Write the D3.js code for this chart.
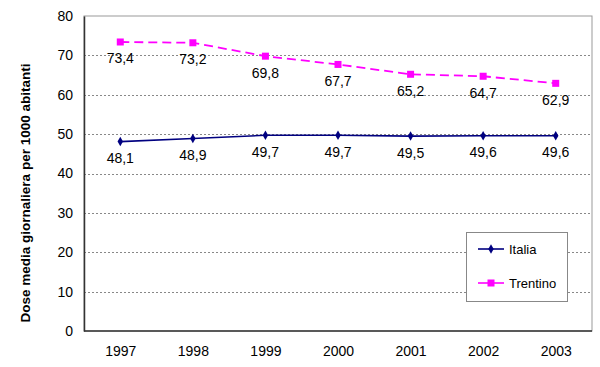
<!DOCTYPE html>
<html><head><meta charset="utf-8">
<script src="https://cdn.jsdelivr.net/npm/d3@7"></script>
<style>body{margin:0;background:#fff}svg{display:block}text{font-family:"Liberation Sans",Arial,sans-serif}</style>
</head><body>
<svg id="c" width="600" height="367"></svg>
<script>
const years = ["1997","1998","1999","2000","2001","2002","2003"];
const italia = [48.1,48.9,49.7,49.7,49.5,49.6,49.6];
const trentino = [73.4,73.2,69.8,67.7,65.2,64.7,62.9];
const yTicks = [0,10,20,30,40,50,60,70,80];
const seriesNames = ["Italia","Trentino"];

const svg = d3.select("#c");
const L=84, R=592, T=16, B=331;
const x = d3.scalePoint().domain(years).range([L,R]).padding(0.5);
const y = d3.scaleLinear().domain([0,80]).range([B,T]);

// plot frame
svg.append("rect").attr("x",L).attr("y",T).attr("width",R-L).attr("height",B-T)
  .attr("fill","#fff").attr("stroke","#999").attr("stroke-width",1);
// gridlines
svg.append("g").selectAll("line").data(yTicks.filter(d=>d>0&&d<80)).join("line")
  .attr("x1",L).attr("x2",R).attr("y1",d=>Math.round(y(d))+0.5).attr("y2",d=>Math.round(y(d))+0.5)
  .attr("stroke","#888").attr("stroke-dasharray","2,2");

// axes
const yAxis = d3.axisLeft(y).tickValues(yTicks).tickSize(0).tickPadding(11).tickFormat(d3.format("d"));
const gy = svg.append("g").attr("transform",`translate(${L},0)`).call(yAxis);
gy.select(".domain").attr("stroke","#333").attr("stroke-width",1.5);
gy.selectAll("text").attr("font-size",14).attr("fill","#000");
const xAxis = d3.axisBottom(x).tickSize(0).tickPadding(15.5);
const gx = svg.append("g").attr("transform",`translate(0,${B})`).call(xAxis);
gx.select(".domain").attr("stroke","#333").attr("stroke-width",1.5).attr("d",`M${L},0H${R}`);
gx.selectAll("text").attr("font-size",14).attr("fill","#000");

// y title
svg.append("text").attr("transform",`translate(30,193) rotate(-90)`)
  .attr("text-anchor","middle").attr("font-size",13.5).attr("font-weight","bold").text("Dose media giornaliera per 1000 abitanti");

const line = d3.line().x((d,i)=>x(years[i])).y(d=>y(d));
// Italia
svg.append("path").datum(italia).attr("d",line).attr("fill","none").attr("stroke","#000080").attr("stroke-width",1.6);
svg.append("g").selectAll("path").data(italia).join("path")
  .attr("d",d3.symbol(d3.symbolDiamond,26)).attr("transform",(d,i)=>`translate(${x(years[i])},${y(d)})`).attr("fill","#000080");
// Trentino
svg.append("path").datum(trentino).attr("d",line).attr("fill","none").attr("stroke","#ff00ff").attr("stroke-width",1.8).attr("stroke-dasharray","9,5");
svg.append("g").selectAll("rect").data(trentino).join("rect")
  .attr("x",(d,i)=>x(years[i])-3.5).attr("y",d=>y(d)-3.5).attr("width",7).attr("height",7).attr("fill","#ff00ff");

// labels
const fmt = d=>d3.format(".1f")(d).replace(".",",");
[italia,trentino].forEach(s=>{
  svg.append("g").selectAll("text").data(s).join("text")
    .attr("x",(d,i)=>x(years[i])).attr("y",d=>y(d)+21.5).attr("text-anchor","middle")
    .attr("font-size",14).attr("fill","#000").text(fmt);
});

// legend
const lg = svg.append("g");
lg.append("rect").attr("x",466.5).attr("y",232.5).attr("width",101).attr("height",69)
  .attr("fill","#fff").attr("stroke","#888");
const ly=[249,283];
seriesNames.forEach((n,i)=>{
  lg.append("line").attr("x1",478).attr("x2",504).attr("y1",ly[i]).attr("y2",ly[i])
    .attr("stroke",i?"#ff00ff":"#000080").attr("stroke-width",1.6);
  if(i) lg.append("rect").attr("x",487.5).attr("y",ly[i]-3.5).attr("width",7).attr("height",7).attr("fill","#ff00ff");
  else lg.append("path").attr("d",d3.symbol(d3.symbolDiamond,26)).attr("transform",`translate(491,${ly[i]})`).attr("fill","#000080");
  lg.append("text").attr("x",509).attr("y",ly[i]+5).attr("font-size",13).attr("fill","#000").text(n);
});
</script>
</body></html>
